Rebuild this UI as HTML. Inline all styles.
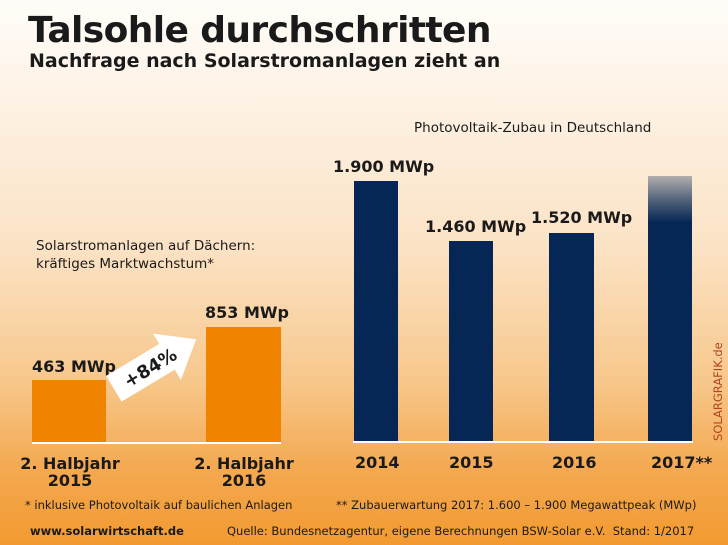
<!DOCTYPE html>
<html><head><meta charset="utf-8"><style>
body{margin:0}
#c{position:relative;width:728px;height:545px;overflow:hidden;font-family:"DejaVu Sans","Liberation Sans",sans-serif;color:#1a1a1a;
background:linear-gradient(to bottom,#fffdf9 0px,#fdf0e0 120px,#fbe2c4 250px,#f7c88c 380px,#f4a850 470px,#f29a30 545px)}
.a{position:absolute;white-space:nowrap}
.b{font-weight:bold}
.nb{position:absolute;background:#062755}
.ob{position:absolute;background:#f08400}
</style></head><body><div id="c">
<div class="a b" style="left:28px;top:10px;font-size:36px;letter-spacing:-0.6px">Talsohle durchschritten</div>
<div class="a b" style="left:29px;top:50px;font-size:19px">Nachfrage nach Solarstromanlagen zieht an</div>
<div class="a" style="left:414px;top:120px;font-size:13.5px">Photovoltaik-Zubau in Deutschland</div>
<div class="a" style="left:36px;top:237px;font-size:13.5px;line-height:18px">Solarstromanlagen auf Dächern:<br>kräftiges Marktwachstum*</div>

<div class="ob" style="left:32px;top:380px;width:74px;height:62px"></div>
<div class="ob" style="left:206px;top:327px;width:75px;height:115px"></div>
<div class="a" style="left:32px;top:442px;width:249px;height:2px;background:#fff"></div>
<div class="a b" style="left:32px;top:357px;font-size:16px">463 MWp</div>
<div class="a b" style="left:205px;top:303px;font-size:16px">853 MWp</div>
<svg class="a" style="left:0;top:0" width="728" height="545"><g transform="translate(155,364) rotate(-31)">
<polygon points="-48,-15 14,-15 14,-27 48,0 14,27 14,15 -48,15" fill="#fff"/>
<text x="-6" y="7" text-anchor="middle" font-family="DejaVu Sans" font-weight="bold" font-size="18" fill="#1a1a1a">+84%</text></g></svg>
<div class="a b" style="left:20px;top:455px;width:100px;text-align:center;font-size:16px;line-height:17px">2. Halbjahr<br>2015</div>
<div class="a b" style="left:194px;top:455px;width:100px;text-align:center;font-size:16px;line-height:17px">2. Halbjahr<br>2016</div>

<div class="nb" style="left:354px;top:181px;width:44px;height:261px"></div>
<div class="nb" style="left:449px;top:241px;width:44px;height:201px"></div>
<div class="nb" style="left:549px;top:233px;width:45px;height:209px"></div>
<div class="nb" style="left:648px;top:176px;width:44px;height:266px;background:linear-gradient(to bottom,rgba(6,39,85,0.3) 0px,rgba(6,39,85,0.7) 25px,#062755 46px)"></div>
<div class="a" style="left:353px;top:441px;width:340px;height:2px;background:#fff"></div>
<div class="a b" style="left:333px;top:157px;font-size:16px">1.900 MWp</div>
<div class="a b" style="left:425px;top:217px;font-size:16px">1.460 MWp</div>
<div class="a b" style="left:531px;top:208px;font-size:16px">1.520 MWp</div>
<div class="a b" style="left:355px;top:453px;font-size:16px">2014</div>
<div class="a b" style="left:449px;top:453px;font-size:16px">2015</div>
<div class="a b" style="left:552px;top:453px;font-size:16px">2016</div>
<div class="a b" style="left:651px;top:453px;font-size:16px">2017**</div>
<div class="a" style="left:711px;top:441px;font-size:11.5px;color:#b0451f;transform:rotate(-90deg);transform-origin:0 0">SOLARGRAFIK.de</div>

<div class="a" style="left:25px;top:498px;font-size:11.5px">* inklusive Photovoltaik auf baulichen Anlagen</div>
<div class="a" style="left:336px;top:498px;font-size:11.5px">** Zubauerwartung 2017: 1.600 – 1.900 Megawattpeak (MWp)</div>
<div class="a b" style="left:30px;top:524px;font-size:11.5px">www.solarwirtschaft.de</div>
<div class="a" style="left:227px;top:524px;font-size:11.5px">Quelle: Bundesnetzagentur, eigene Berechnungen BSW-Solar e.V.&nbsp; Stand: 1/2017</div>
</div></body></html>
